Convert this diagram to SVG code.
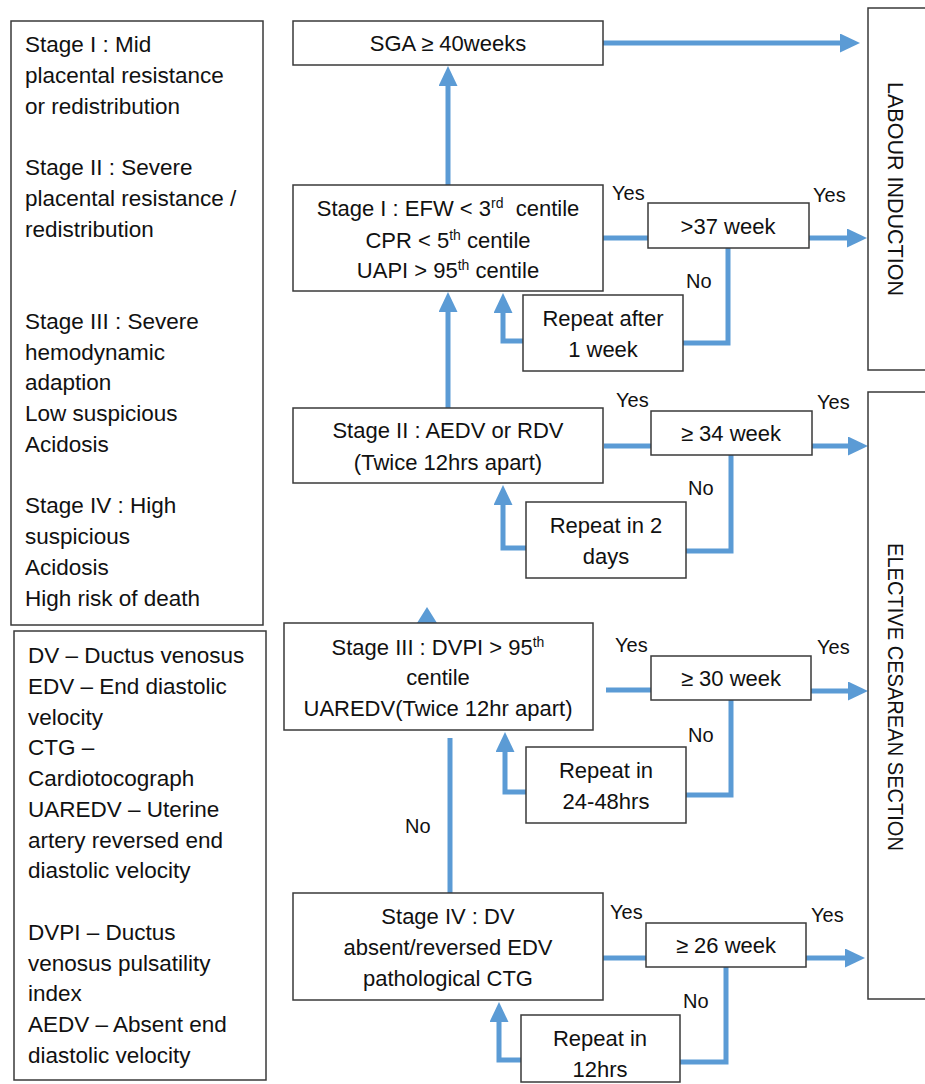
<svg xmlns="http://www.w3.org/2000/svg" width="925" height="1084" viewBox="0 0 925 1084">
<style>
.box{fill:#fff;stroke:#3a3a3a;stroke-width:1.5}
.t{font-family:"Liberation Sans",Arial,sans-serif;font-size:22px;fill:#111;text-anchor:middle}
.lg{font-family:"Liberation Sans",Arial,sans-serif;font-size:22.5px;fill:#111}
.lb{font-family:"Liberation Sans",Arial,sans-serif;font-size:20px;fill:#111}
.c{fill:none;stroke:#5B9BD5;stroke-width:5}
.sup{font-size:14px}
</style>
<defs>
<marker id="ah" markerUnits="userSpaceOnUse" markerWidth="20" markerHeight="20" refX="1" refY="9.5" orient="auto">
<path d="M0,0 L20,9.5 L0,19 z" fill="#5B9BD5"/>
</marker>
</defs>
<rect width="925" height="1084" fill="#fff"/>

<g id="legend1">
<rect class="box" x="11" y="21" width="252" height="604"/>
<text class="lg" x="25" y="52">Stage I : Mid</text>
<text class="lg" x="25" y="83">placental resistance</text>
<text class="lg" x="25" y="113.5">or redistribution</text>
<text class="lg" x="25" y="175">Stage II : Severe</text>
<text class="lg" x="25" y="206">placental resistance /</text>
<text class="lg" x="25" y="236.5">redistribution</text>
<text class="lg" x="25" y="329">Stage III : Severe</text>
<text class="lg" x="25" y="359.5">hemodynamic</text>
<text class="lg" x="25" y="390">adaption</text>
<text class="lg" x="25" y="421">Low suspicious</text>
<text class="lg" x="25" y="452">Acidosis</text>
<text class="lg" x="25" y="513">Stage IV : High</text>
<text class="lg" x="25" y="544">suspicious</text>
<text class="lg" x="25" y="575">Acidosis</text>
<text class="lg" x="25" y="605.5">High risk of death</text>
</g>

<g id="legend2">
<rect class="box" x="14" y="631" width="252" height="449"/>
<text class="lg" x="28" y="663">DV – Ductus venosus</text>
<text class="lg" x="28" y="694">EDV – End diastolic</text>
<text class="lg" x="28" y="724.5">velocity</text>
<text class="lg" x="28" y="755">CTG –</text>
<text class="lg" x="28" y="786">Cardiotocograph</text>
<text class="lg" x="28" y="817">UAREDV – Uterine</text>
<text class="lg" x="28" y="847.5">artery reversed end</text>
<text class="lg" x="28" y="878">diastolic velocity</text>
<text class="lg" x="28" y="940">DVPI – Ductus</text>
<text class="lg" x="28" y="970.5">venosus pulsatility</text>
<text class="lg" x="28" y="1001">index</text>
<text class="lg" x="28" y="1032">AEDV – Absent end</text>
<text class="lg" x="28" y="1063">diastolic velocity</text>
</g>

<g id="connectors">
<line class="c" x1="603" y1="43" x2="841" y2="43" marker-end="url(#ah)"/>
<line class="c" x1="448" y1="185" x2="448" y2="85" marker-end="url(#ah)"/>
<line class="c" x1="448" y1="408" x2="448" y2="311" marker-end="url(#ah)"/>
<line class="c" x1="603" y1="238" x2="648" y2="238"/>
<line class="c" x1="809" y1="238" x2="848" y2="238" marker-end="url(#ah)"/>
<polyline class="c" points="728,248 728,343 683,343"/>
<polyline class="c" points="523,341 503,341 503,312" marker-end="url(#ah)"/>
<line class="c" x1="604" y1="446" x2="651" y2="446"/>
<line class="c" x1="812" y1="446" x2="849" y2="446" marker-end="url(#ah)"/>
<polyline class="c" points="731,455 731,551 686,551"/>
<polyline class="c" points="526,548 503,548 503,504" marker-end="url(#ah)"/>
<polygon points="427,607 417,623 437,623" fill="#5B9BD5"/>
<line class="c" x1="606" y1="690" x2="651" y2="690"/>
<line class="c" x1="811" y1="691" x2="849" y2="691" marker-end="url(#ah)"/>
<polyline class="c" points="731,700 731,795 686,795"/>
<polyline class="c" points="526,792 505,792 505,751" marker-end="url(#ah)"/>
<line class="c" x1="450" y1="893" x2="450" y2="738"/>
<line class="c" x1="601" y1="958" x2="646" y2="958"/>
<line class="c" x1="806" y1="958" x2="846" y2="958" marker-end="url(#ah)"/>
<polyline class="c" points="726,967 726,1062 680,1062"/>
<polyline class="c" points="521,1060 499,1060 499,1021" marker-end="url(#ah)"/>
<text class="lb" x="612" y="200">Yes</text>
<text class="lb" x="813" y="202">Yes</text>
<text class="lb" x="686" y="288">No</text>
<text class="lb" x="616" y="407">Yes</text>
<text class="lb" x="817" y="409">Yes</text>
<text class="lb" x="688" y="495">No</text>
<text class="lb" x="615" y="652">Yes</text>
<text class="lb" x="817" y="654">Yes</text>
<text class="lb" x="688" y="742">No</text>
<text class="lb" x="405" y="833">No</text>
<text class="lb" x="610" y="919">Yes</text>
<text class="lb" x="811" y="922">Yes</text>
<text class="lb" x="683" y="1008">No</text>
</g>

<g id="sga">
<rect class="box" x="293" y="21" width="310" height="44"/>
<text class="t" x="448" y="51">SGA ≥ 40weeks</text>
</g>

<g id="stage1">
<rect class="box" x="293" y="185" width="310" height="106"/>
<text class="t" x="448" y="216" xml:space="preserve">Stage I : EFW &lt; 3<tspan class="sup" dy="-8">rd</tspan><tspan dy="8">  centile</tspan></text>
<text class="t" x="448" y="248">CPR &lt; 5<tspan class="sup" dy="-8">th</tspan><tspan dy="8"> centile</tspan></text>
<text class="t" x="448" y="278">UAPI &gt; 95<tspan class="sup" dy="-8">th</tspan><tspan dy="8"> centile</tspan></text>
</g>

<g id="w37">
<rect class="box" x="648" y="203" width="161" height="45"/>
<text class="t" x="728" y="234">&gt;37 week</text>
</g>

<g id="rep1">
<rect class="box" x="523" y="295" width="160" height="76"/>
<text class="t" x="603" y="326">Repeat after</text>
<text class="t" x="603" y="357">1 week</text>
</g>

<g id="stage2">
<rect class="box" x="293" y="408" width="310" height="75"/>
<text class="t" x="448" y="438">Stage II : AEDV or RDV</text>
<text class="t" x="448" y="470">(Twice 12hrs apart)</text>
</g>

<g id="w34">
<rect class="box" x="651" y="411" width="161" height="44"/>
<text class="t" x="731" y="441">≥ 34 week</text>
</g>

<g id="rep2">
<rect class="box" x="526" y="502" width="160" height="76"/>
<text class="t" x="606" y="533">Repeat in 2</text>
<text class="t" x="606" y="564">days</text>
</g>

<g id="stage3">
<rect class="box" x="284" y="623" width="309" height="107"/>
<text class="t" x="438" y="655">Stage III : DVPI &gt; 95<tspan class="sup" dy="-8">th</tspan></text>
<text class="t" x="438" y="685">centile</text>
<text class="t" x="438" y="716">UAREDV(Twice 12hr apart)</text>
</g>

<g id="w30">
<rect class="box" x="651" y="656" width="160" height="44"/>
<text class="t" x="731" y="686">≥ 30 week</text>
</g>

<g id="rep3">
<rect class="box" x="526" y="747" width="160" height="76"/>
<text class="t" x="606" y="778">Repeat in</text>
<text class="t" x="606" y="809">24-48hrs</text>
</g>

<g id="stage4">
<rect class="box" x="293" y="893" width="310" height="107"/>
<text class="t" x="448" y="924">Stage IV : DV</text>
<text class="t" x="448" y="955">absent/reversed EDV</text>
<text class="t" x="448" y="986">pathological CTG</text>
</g>

<g id="w26">
<rect class="box" x="646" y="923" width="160" height="44"/>
<text class="t" x="726" y="953">≥ 26 week</text>
</g>

<g id="rep4">
<rect class="box" x="521" y="1015" width="159" height="67"/>
<text class="t" x="600" y="1046">Repeat in</text>
<text class="t" x="600" y="1077">12hrs</text>
</g>

<g id="labour">
<rect class="box" x="868" y="8" width="80" height="362"/>
<text class="t" transform="translate(888,189) rotate(90)" x="0" y="0" textLength="214" lengthAdjust="spacingAndGlyphs">LABOUR INDUCTION</text>
</g>

<g id="cesarean">
<rect class="box" x="868" y="392" width="80" height="607"/>
<text class="t" transform="translate(888,697) rotate(90)" x="0" y="0" textLength="308" lengthAdjust="spacingAndGlyphs">ELECTIVE CESAREAN SECTION</text>
</g>
</svg>
